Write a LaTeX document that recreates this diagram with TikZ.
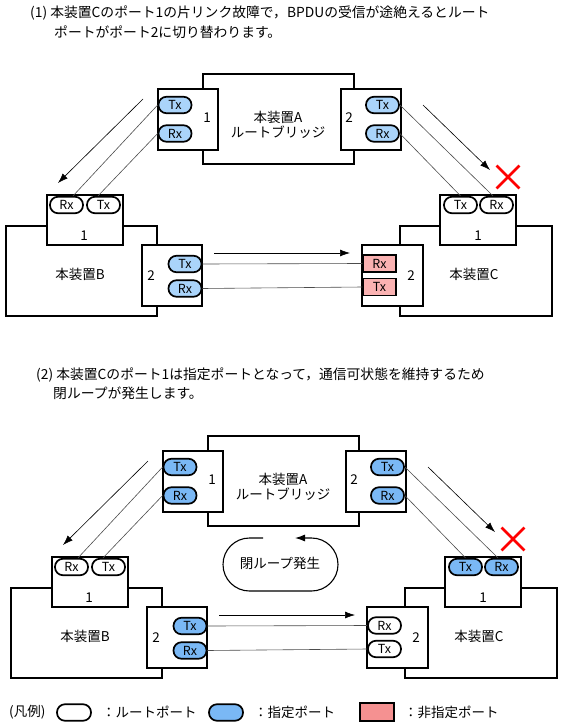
\documentclass[tikz,border=0pt]{standalone}
\usepackage{fontspec}
\setmainfont{Noto Sans CJK JP}
\usetikzlibrary{arrows.meta,shapes.misc}

\definecolor{bluelight}{RGB}{170,212,250}
\definecolor{bluedark}{RGB}{122,184,245}
\definecolor{pinklight}{RGB}{250,178,178}
\definecolor{pinkdark}{RGB}{245,145,145}

\tikzset{
  body/.style={draw, line width=1.8pt, minimum width=151pt, minimum height=90pt, inner sep=0pt},
  portbox/.style={draw, fill=white, line width=1.8pt, inner sep=0pt},
  pill/.style={draw, line width=1.7pt, rounded corners=8pt, minimum width=33pt, minimum height=16.5pt, inner sep=0pt, font=\fontsize{12.5}{12.5}\selectfont},
  rootport/.style={pill, fill=white},
  desiglight/.style={pill, fill=bluelight},
  desigdark/.style={pill, fill=bluedark},
  blockport/.style={pill, sharp corners, fill=pinklight, line width=1.4pt, minimum height=17pt},
  link/.style={draw=black!70, line width=0.6pt},
  signal/.style={-{Latex[length=10pt,width=7pt]}, line width=0.6pt},
  fail/.style={cross out, draw=red, line width=2.8pt, minimum size=20pt, inner sep=0pt},
  txt/.style={anchor=west, inner sep=0pt},
}

% #1 shift, #2 name prefix, #3 designated ports, #4 C port 1, #5 C port 2
\newcommand{\bpdunet}[5]{%
\begin{scope}[shift={#1}]
  % device A
  \node[body] (#2A) at (278.5,119) {};
  \node[portbox, minimum width=60pt, minimum height=61pt] (#2Ap1) at (188,119.5) {};
  \node[portbox, minimum width=60pt, minimum height=61pt] (#2Ap2) at (371,119.5) {};
  \node[#3] (#2Atx1) at (175,105) {Tx};
  \node[#3] (#2Arx1) at (175,133.5) {Rx};
  \node[#3] (#2Atx2) at (382.5,105) {Tx};
  \node[#3] (#2Arx2) at (382.5,133.5) {Rx};
  \node (#2An1) at (207,118) {1};
  \node (#2An2) at (349,118) {2};
  \node[align=center] (#2Aname) at (278,124.5) {本装置A\\ルートブリッジ};
  % device B
  \node[body] (#2B) at (81.5,271) {};
  \node[portbox, minimum width=76pt, minimum height=50pt] (#2Bp1) at (85,220) {};
  \node[portbox, minimum width=60pt, minimum height=61pt] (#2Bp2) at (172,275.5) {};
  \node[rootport] (#2Brx1) at (66.5,205) {Rx};
  \node[rootport] (#2Btx1) at (103.5,205) {Tx};
  \node[#3] (#2Btx2) at (185,264) {Tx};
  \node[#3] (#2Brx2) at (185,288.5) {Rx};
  \node (#2Bn1) at (84,236) {1};
  \node (#2Bn2) at (151,276) {2};
  \node (#2Bname) at (80,274) {本装置B};
  % device C
  \node[body, minimum width=152pt] (#2C) at (476,271) {};
  \node[portbox, minimum width=76pt, minimum height=50pt] (#2Cp1) at (478,220) {};
  \node[portbox, minimum width=61pt, minimum height=61pt] (#2Cp2) at (392.5,275.5) {};
  \node[#4] (#2Ctx1) at (460.5,205) {Tx};
  \node[#4] (#2Crx1) at (496.5,205) {Rx};
  \node[#5] (#2Crx2) at (379.5,263.5) {Rx};
  \node[#5] (#2Ctx2) at (379.5,287) {Tx};
  \node (#2Cn1) at (478,236) {1};
  \node (#2Cn2) at (411,276) {2};
  \node (#2Cname) at (474,274) {本装置C};
  % links
  \draw[link] (#2Atx1.west) -- ([xshift=6.5pt]#2Brx1.north);
  \draw[link] (#2Arx1.west) -- ([xshift=-5.5pt]#2Btx1.north);
  \draw[link] (#2Atx2.east) -- ([xshift=-3.5pt]#2Crx1.north);
  \draw[link] (#2Arx2.east) -- (#2Ctx1.north);
  \draw[link] (#2Btx2.east) -- (#2Crx2.west);
  \draw[link] (#2Brx2.east) -- (#2Ctx2.west);
  % BPDU flow
  \coordinate (#2f1s) at (143,99);  \coordinate (#2f1e) at (58,183);
  \coordinate (#2f2s) at (423,105); \coordinate (#2f2e) at (490,170);
  \coordinate (#2f3s) at (214,253); \coordinate (#2f3e) at (350,253);
  \draw[signal] (#2f1s) -- (#2f1e);
  \draw[signal] (#2f2s) -- (#2f2e);
  \draw[signal] (#2f3s) -- (#2f3e);
  \node[fail] (#2x) at (508,177) {};
\end{scope}}

\begin{document}
\begin{tikzpicture}[x=1pt,y=-1pt,font=\fontsize{13.5}{15}\selectfont]
  \useasboundingbox (0,0) rectangle (561,725);

  \node[txt, font=\fontsize{13.8}{15}\selectfont] (t1a) at (30,13) {(1) 本装置Cのポート1の片リンク故障で，BPDUの受信が途絶えるとルート};
  \node[txt, font=\fontsize{13.8}{15}\selectfont] (t1b) at (54,32) {ポートがポート2に切り替わります。};
  \bpdunet{(0,0)}{u}{desiglight}{rootport}{blockport}

  \node[txt, font=\fontsize{13.8}{15}\selectfont] (t2a) at (36,375) {(2) 本装置Cのポート1は指定ポートとなって，通信可状態を維持するため};
  \node[txt, font=\fontsize{13.8}{15}\selectfont] (t2b) at (53,393) {閉ループが発生します。};
  \bpdunet{(5,362)}{l}{desigdark}{desigdark}{rootport}

  % loop
  \node (loop) at (280,563) {閉ループ発生};
  \draw[line width=1.1pt, rounded corners=26.5pt, -{Latex[length=10pt,width=7pt]}]
    (263,538) -- (223,538) -- (223,591) -- (338,591) -- (338,538) -- (295,538);

  % legend
  \node[txt] (lg0) at (9,712) {(凡例)};
  \node[rootport, minimum width=34pt] (lg1) at (74,712.5) {};
  \node[txt] (lg1t) at (102,712) {：ルートポート};
  \node[pill, fill=bluedark, minimum width=34pt] (lg2) at (226,712.5) {};
  \node[txt] (lg2t) at (254,712) {：指定ポート};
  \node[draw, fill=pinkdark, line width=1.4pt, minimum width=34pt, minimum height=18pt] (lg3) at (377,712) {};
  \node[txt] (lg3t) at (404,712) {：非指定ポート};
\end{tikzpicture}
\end{document}
